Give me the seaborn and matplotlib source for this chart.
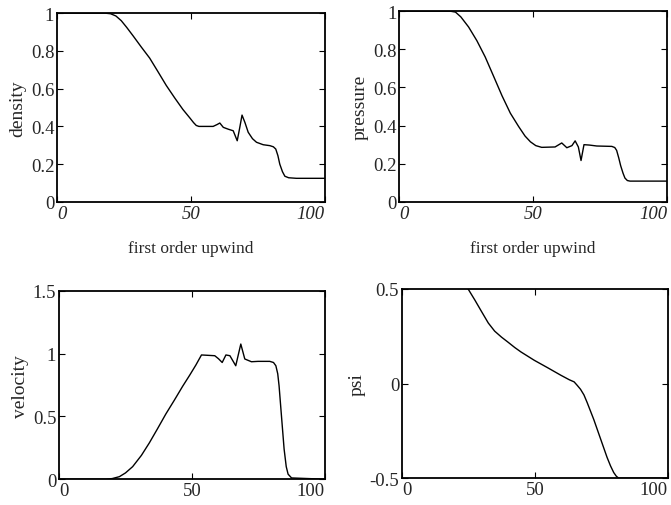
import matplotlib
matplotlib.use("Agg")
import matplotlib.pyplot as plt
import seaborn as sns
import pandas as pd

# ---- data ----
density_x = [0, 10, 18, 20, 22, 24, 26, 28.4, 31.5, 34.6, 37.7, 40.8, 44, 47, 49.6, 51, 52,
             53, 55, 58.3, 59.8, 60.8, 62.1, 64, 65.8, 67.3, 68.2, 69.1, 70.2, 71.4, 73,
             74.5, 77, 79.5, 80.8, 81.7, 82.5, 83.2, 84.2, 85.1, 86.5, 89.4, 100]
density_y = [1.0, 1.0, 1.0, 0.997, 0.985, 0.96, 0.925, 0.88, 0.82, 0.762, 0.69, 0.617, 0.55,
             0.49, 0.445, 0.42, 0.405, 0.40, 0.40, 0.40, 0.41, 0.418, 0.395, 0.385, 0.377,
             0.324, 0.39, 0.46, 0.42, 0.369, 0.335, 0.316, 0.303, 0.298, 0.292, 0.28, 0.245,
             0.20, 0.16, 0.136, 0.128, 0.125, 0.125]

pressure_x = [0, 10, 19, 21, 23, 25.9, 29, 32.1, 35.2, 38.4, 41.5, 44.6, 47, 49, 51, 53.2,
              58.2, 60.7, 62.6, 64.5, 65.7, 66.9, 67.9, 69.0, 71, 73.8, 79.4, 80.5, 81.2,
              82, 82.7, 83.6, 84.3, 85.2, 86.2, 100]
pressure_y = [1.0, 1.0, 1.0, 0.995, 0.97, 0.917, 0.845, 0.76, 0.66, 0.556, 0.465, 0.395, 0.345,
              0.315, 0.295, 0.286, 0.288, 0.309, 0.284, 0.295, 0.32, 0.288, 0.217, 0.30, 0.298,
              0.293, 0.291, 0.285, 0.27, 0.23, 0.19, 0.15, 0.125, 0.112, 0.109, 0.109]

velocity_x = [0, 10, 17.7, 20, 22.7, 25, 27.7, 31, 34, 37, 40.2, 43.4, 46.5, 49.2, 51.5, 53.6,
              58.6, 60, 61.4, 62.8, 64.3, 66.5, 68.4, 69.9, 72.4, 74.9, 79.3, 80.7, 81.6,
              82.3, 82.8, 83.7, 84.7, 85.5, 86.2, 87.5, 100]
velocity_y = [0.0, 0.0, 0.0, 0.005, 0.02, 0.05, 0.10, 0.19, 0.29, 0.40, 0.52, 0.63, 0.74,
              0.83, 0.91, 0.99, 0.984, 0.96, 0.93, 0.99, 0.984, 0.904, 1.077, 0.958, 0.936,
              0.939, 0.939, 0.93, 0.904, 0.84, 0.745, 0.505, 0.24, 0.10, 0.04, 0.01, 0.0]

psi_x = [24.9, 27.5, 29.9, 32.5, 34.9, 37.5, 39.9, 42.5, 44.8, 49.8, 54.8, 59.8, 63, 64.8,
         66, 67.2, 68.5, 69.7, 72.2, 74.7, 77.2, 78.5, 79.7, 80.7, 81.6, 100]
psi_y = [0.5, 0.44, 0.382, 0.32, 0.277, 0.245, 0.219, 0.19, 0.167, 0.123, 0.084, 0.044,
         0.02, 0.009, -0.01, -0.03, -0.06, -0.10, -0.19, -0.29, -0.39, -0.435, -0.47,
         -0.49, -0.5, -0.5]

panels = [
    ("density", density_x, density_y, (0, 1), [0, 0.2, 0.4, 0.6, 0.8, 1],
     ["0", "0.2", "0.4", "0.6", "0.8", "1"], "first order upwind", True),
    ("pressure", pressure_x, pressure_y, (0, 1), [0, 0.2, 0.4, 0.6, 0.8, 1],
     ["0", "0.2", "0.4", "0.6", "0.8", "1"], "first order upwind", True),
    ("velocity", velocity_x, velocity_y, (0, 1.5), [0, 0.5, 1, 1.5],
     ["0", "0.5", "1", "1.5"], "", False),
    ("psi", psi_x, psi_y, (-0.5, 0.5), [-0.5, 0, 0.5],
     ["-0.5", "0", "0.5"], "", False),
]
xticks = [0, 50, 100]
xticklabels = ["0", "50", "100"]

sns.set_theme(style="ticks")
plt.rcParams["font.family"] = ["Liberation Serif", "DejaVu Serif"]
plt.rcParams["xtick.direction"] = "in"
plt.rcParams["ytick.direction"] = "in"

fig = plt.figure(figsize=(6.71, 5.06), dpi=100)
rects = [
    [0.085, 0.599, 0.399, 0.373],
    [0.595, 0.599, 0.399, 0.377],
    [0.088, 0.051, 0.396, 0.372],
    [0.599, 0.053, 0.396, 0.374],
]

for rect, (name, xs, ys, ylim, yt, ytl, xlabel, ital) in zip(rects, panels):
    ax = fig.add_axes(rect)
    df = pd.DataFrame({"x": xs, name: ys})
    sns.lineplot(data=df, x="x", y=name, ax=ax, color="black", linewidth=1.0)
    ax.set_xlim(0, 100)
    ax.set_ylim(*ylim)
    ax.set_xticks(xticks)
    labs = ax.set_xticklabels(xticklabels, fontsize=13.5,
                              style="italic" if ital else "normal")
    labs[0].set_horizontalalignment("left")
    labs[-1].set_horizontalalignment("right")
    ax.set_yticks(yt)
    ax.set_yticklabels(ytl, fontsize=13.5)
    ax.set_ylabel(name, fontsize=14, labelpad=3)
    ax.set_xlabel(xlabel, fontsize=12.5, labelpad=13)
    ax.tick_params(axis="both", which="both", top=True, right=True, length=4,
                   width=0.8, pad=2, color="black")
    for s in ax.spines.values():
        s.set_linewidth(1.3)
        s.set_color("black")

fig.savefig("out.png", dpi=100, facecolor="white")
